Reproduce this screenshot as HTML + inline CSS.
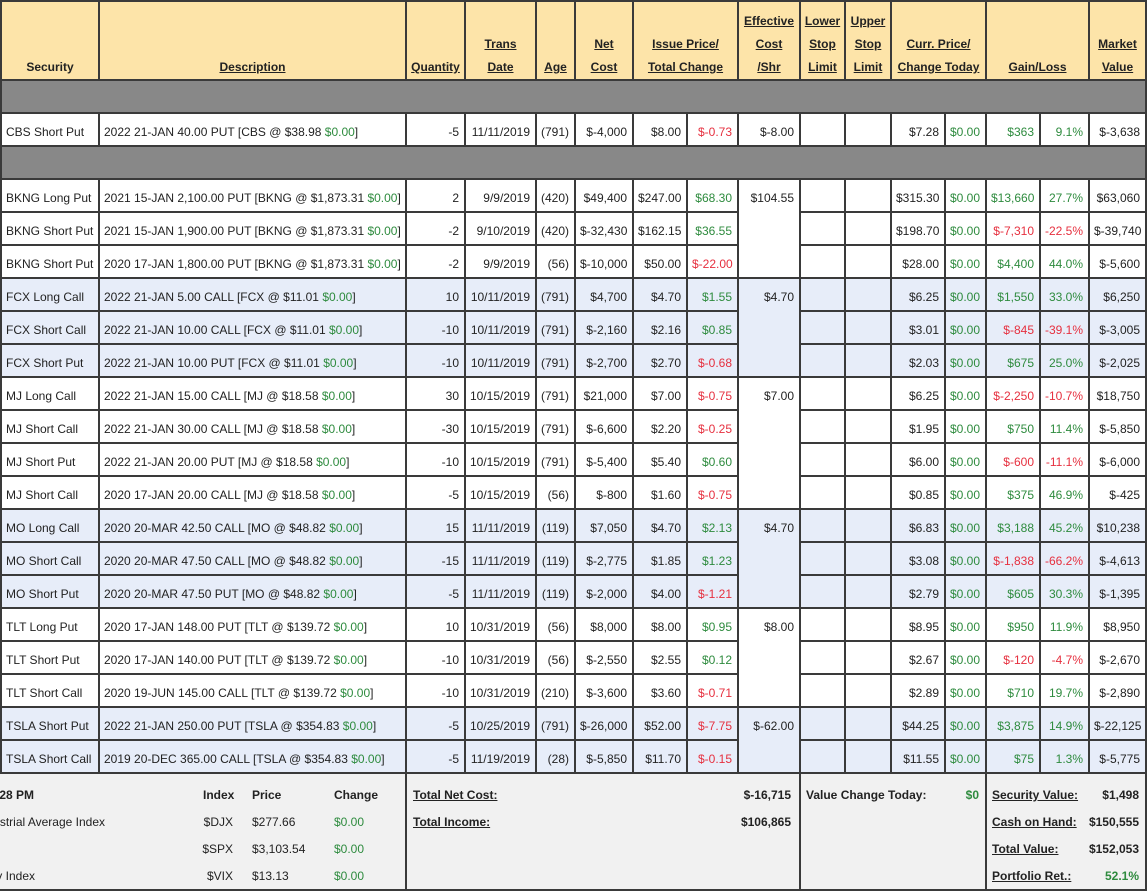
<!DOCTYPE html>
<html><head><meta charset="utf-8">
<style>
body{margin:0;width:1148px;height:892px;position:relative;overflow:hidden;background:#fff;font:12px "Liberation Sans",Arial,sans-serif;color:#222}
.r{position:absolute;left:0;width:1148px;height:35px}
.r>div{position:absolute;top:0;height:35px;box-sizing:border-box;border:2px solid #3a3a3a;padding:3px 5px 0 4px;line-height:31px;white-space:nowrap;text-align:right;background:#fff}
.b>div{background:#e7edf9}
.r>.l{text-align:left}
.g{color:#2e8b3e}.n{color:#e6303f}
.c0{left:0;width:100px}.c1{left:98px;width:309px}.c2{left:405px;width:61px}.c3{left:464px;width:73px}
.c4{left:535px;width:41px}.c5{left:574px;width:60px}.c6{left:632px;width:56px}.c7{left:686px;width:53px}
.c8{left:737px;width:64px}.c9{left:799px;width:47px}.c10{left:844px;width:48px}.c11{left:890px;width:56px}
.c12{left:944px;width:43px}.c13{left:985px;width:56px}.c14{left:1039px;width:51px}.c15{left:1088px;width:59px}
.h{position:absolute;left:0;top:0;width:1148px;height:81px}
.h>div{position:absolute;top:0;height:81px;box-sizing:border-box;border:2px solid #3a3a3a;background:#fde4a9;display:flex;flex-direction:column;justify-content:flex-end;align-items:center;text-align:center;line-height:23px;font-weight:bold;white-space:nowrap;padding:0}
.h span{text-decoration:underline}
.gb{position:absolute;left:0;width:1147px;height:35px;box-sizing:border-box;border:2px solid #3a3a3a;background:#888}
.f{position:absolute;top:772px;height:119px;box-sizing:border-box;border:2px solid #3a3a3a;background:#f1f1f1}
.t{position:absolute;line-height:15px;white-space:nowrap}
.bd{font-weight:bold}.u{text-decoration:underline}
.clip{position:absolute;left:0;top:774px;width:405px;height:115px;overflow:hidden}
</style></head><body>

<div class="h">
<div class="c0" style="left:0;width:100px">Security</div>
<div class="c1"><span>Description</span></div>
<div class="c2"><span>Quantity</span></div>
<div class="c3"><span>Trans<br>Date</span></div>
<div class="c4"><span>Age</span></div>
<div class="c5"><span>Net<br>Cost</span></div>
<div style="left:632px;width:107px"><span>Issue Price/<br>Total Change</span></div>
<div class="c8"><span>Effective<br>Cost<br>/Shr</span></div>
<div class="c9"><span>Lower<br>Stop<br>Limit</span></div>
<div class="c10"><span>Upper<br>Stop<br>Limit</span></div>
<div style="left:890px;width:97px"><span>Curr. Price/<br>Change Today</span></div>
<div style="left:985px;width:105px"><span>Gain/Loss</span></div>
<div class="c15"><span>Market<br>Value</span></div>
</div>

<div class="gb" style="top:79px"></div>

<div class="r" style="top:112px"><div class="c0 l">CBS Short Put</div><div class="c1 l">2022 21-JAN 40.00 PUT [CBS @ $38.98 <span class="g">$0.00</span>]</div><div class="c2">-5</div><div class="c3">11/11/2019</div><div class="c4">(791)</div><div class="c5">$-4,000</div><div class="c6">$8.00</div><div class="c7 n">$-0.73</div><div class="c8">$-8.00</div><div class="c9"></div><div class="c10"></div><div class="c11">$7.28</div><div class="c12 g">$0.00</div><div class="c13 g">$363</div><div class="c14 g">9.1%</div><div class="c15">$-3,638</div></div>

<div class="gb" style="top:145px"></div>

<div class="r" style="top:178px"><div class="c0 l">BKNG Long Put</div><div class="c1 l">2021 15-JAN 2,100.00 PUT [BKNG @ $1,873.31 <span class="g">$0.00</span>]</div><div class="c2">2</div><div class="c3">9/9/2019</div><div class="c4">(420)</div><div class="c5">$49,400</div><div class="c6">$247.00</div><div class="c7 g">$68.30</div><div class="c8" style="height:101px">$104.55</div><div class="c9"></div><div class="c10"></div><div class="c11">$315.30</div><div class="c12 g">$0.00</div><div class="c13 g">$13,660</div><div class="c14 g">27.7%</div><div class="c15">$63,060</div></div>
<div class="r" style="top:211px"><div class="c0 l">BKNG Short Put</div><div class="c1 l">2021 15-JAN 1,900.00 PUT [BKNG @ $1,873.31 <span class="g">$0.00</span>]</div><div class="c2">-2</div><div class="c3">9/10/2019</div><div class="c4">(420)</div><div class="c5">$-32,430</div><div class="c6">$162.15</div><div class="c7 g">$36.55</div><div class="c9"></div><div class="c10"></div><div class="c11">$198.70</div><div class="c12 g">$0.00</div><div class="c13 n">$-7,310</div><div class="c14 n">-22.5%</div><div class="c15">$-39,740</div></div>
<div class="r" style="top:244px"><div class="c0 l">BKNG Short Put</div><div class="c1 l">2020 17-JAN 1,800.00 PUT [BKNG @ $1,873.31 <span class="g">$0.00</span>]</div><div class="c2">-2</div><div class="c3">9/9/2019</div><div class="c4">(56)</div><div class="c5">$-10,000</div><div class="c6">$50.00</div><div class="c7 n">$-22.00</div><div class="c9"></div><div class="c10"></div><div class="c11">$28.00</div><div class="c12 g">$0.00</div><div class="c13 g">$4,400</div><div class="c14 g">44.0%</div><div class="c15">$-5,600</div></div>

<div class="r b" style="top:277px"><div class="c0 l">FCX Long Call</div><div class="c1 l">2022 21-JAN 5.00 CALL [FCX @ $11.01 <span class="g">$0.00</span>]</div><div class="c2">10</div><div class="c3">10/11/2019</div><div class="c4">(791)</div><div class="c5">$4,700</div><div class="c6">$4.70</div><div class="c7 g">$1.55</div><div class="c8" style="height:101px">$4.70</div><div class="c9"></div><div class="c10"></div><div class="c11">$6.25</div><div class="c12 g">$0.00</div><div class="c13 g">$1,550</div><div class="c14 g">33.0%</div><div class="c15">$6,250</div></div>
<div class="r b" style="top:310px"><div class="c0 l">FCX Short Call</div><div class="c1 l">2022 21-JAN 10.00 CALL [FCX @ $11.01 <span class="g">$0.00</span>]</div><div class="c2">-10</div><div class="c3">10/11/2019</div><div class="c4">(791)</div><div class="c5">$-2,160</div><div class="c6">$2.16</div><div class="c7 g">$0.85</div><div class="c9"></div><div class="c10"></div><div class="c11">$3.01</div><div class="c12 g">$0.00</div><div class="c13 n">$-845</div><div class="c14 n">-39.1%</div><div class="c15">$-3,005</div></div>
<div class="r b" style="top:343px"><div class="c0 l">FCX Short Put</div><div class="c1 l">2022 21-JAN 10.00 PUT [FCX @ $11.01 <span class="g">$0.00</span>]</div><div class="c2">-10</div><div class="c3">10/11/2019</div><div class="c4">(791)</div><div class="c5">$-2,700</div><div class="c6">$2.70</div><div class="c7 n">$-0.68</div><div class="c9"></div><div class="c10"></div><div class="c11">$2.03</div><div class="c12 g">$0.00</div><div class="c13 g">$675</div><div class="c14 g">25.0%</div><div class="c15">$-2,025</div></div>

<div class="r" style="top:376px"><div class="c0 l">MJ Long Call</div><div class="c1 l">2022 21-JAN 15.00 CALL [MJ @ $18.58 <span class="g">$0.00</span>]</div><div class="c2">30</div><div class="c3">10/15/2019</div><div class="c4">(791)</div><div class="c5">$21,000</div><div class="c6">$7.00</div><div class="c7 n">$-0.75</div><div class="c8" style="height:134px">$7.00</div><div class="c9"></div><div class="c10"></div><div class="c11">$6.25</div><div class="c12 g">$0.00</div><div class="c13 n">$-2,250</div><div class="c14 n">-10.7%</div><div class="c15">$18,750</div></div>
<div class="r" style="top:409px"><div class="c0 l">MJ Short Call</div><div class="c1 l">2022 21-JAN 30.00 CALL [MJ @ $18.58 <span class="g">$0.00</span>]</div><div class="c2">-30</div><div class="c3">10/15/2019</div><div class="c4">(791)</div><div class="c5">$-6,600</div><div class="c6">$2.20</div><div class="c7 n">$-0.25</div><div class="c9"></div><div class="c10"></div><div class="c11">$1.95</div><div class="c12 g">$0.00</div><div class="c13 g">$750</div><div class="c14 g">11.4%</div><div class="c15">$-5,850</div></div>
<div class="r" style="top:442px"><div class="c0 l">MJ Short Put</div><div class="c1 l">2022 21-JAN 20.00 PUT [MJ @ $18.58 <span class="g">$0.00</span>]</div><div class="c2">-10</div><div class="c3">10/15/2019</div><div class="c4">(791)</div><div class="c5">$-5,400</div><div class="c6">$5.40</div><div class="c7 g">$0.60</div><div class="c9"></div><div class="c10"></div><div class="c11">$6.00</div><div class="c12 g">$0.00</div><div class="c13 n">$-600</div><div class="c14 n">-11.1%</div><div class="c15">$-6,000</div></div>
<div class="r" style="top:475px"><div class="c0 l">MJ Short Call</div><div class="c1 l">2020 17-JAN 20.00 CALL [MJ @ $18.58 <span class="g">$0.00</span>]</div><div class="c2">-5</div><div class="c3">10/15/2019</div><div class="c4">(56)</div><div class="c5">$-800</div><div class="c6">$1.60</div><div class="c7 n">$-0.75</div><div class="c9"></div><div class="c10"></div><div class="c11">$0.85</div><div class="c12 g">$0.00</div><div class="c13 g">$375</div><div class="c14 g">46.9%</div><div class="c15">$-425</div></div>

<div class="r b" style="top:508px"><div class="c0 l">MO Long Call</div><div class="c1 l">2020 20-MAR 42.50 CALL [MO @ $48.82 <span class="g">$0.00</span>]</div><div class="c2">15</div><div class="c3">11/11/2019</div><div class="c4">(119)</div><div class="c5">$7,050</div><div class="c6">$4.70</div><div class="c7 g">$2.13</div><div class="c8" style="height:101px">$4.70</div><div class="c9"></div><div class="c10"></div><div class="c11">$6.83</div><div class="c12 g">$0.00</div><div class="c13 g">$3,188</div><div class="c14 g">45.2%</div><div class="c15">$10,238</div></div>
<div class="r b" style="top:541px"><div class="c0 l">MO Short Call</div><div class="c1 l">2020 20-MAR 47.50 CALL [MO @ $48.82 <span class="g">$0.00</span>]</div><div class="c2">-15</div><div class="c3">11/11/2019</div><div class="c4">(119)</div><div class="c5">$-2,775</div><div class="c6">$1.85</div><div class="c7 g">$1.23</div><div class="c9"></div><div class="c10"></div><div class="c11">$3.08</div><div class="c12 g">$0.00</div><div class="c13 n">$-1,838</div><div class="c14 n">-66.2%</div><div class="c15">$-4,613</div></div>
<div class="r b" style="top:574px"><div class="c0 l">MO Short Put</div><div class="c1 l">2020 20-MAR 47.50 PUT [MO @ $48.82 <span class="g">$0.00</span>]</div><div class="c2">-5</div><div class="c3">11/11/2019</div><div class="c4">(119)</div><div class="c5">$-2,000</div><div class="c6">$4.00</div><div class="c7 n">$-1.21</div><div class="c9"></div><div class="c10"></div><div class="c11">$2.79</div><div class="c12 g">$0.00</div><div class="c13 g">$605</div><div class="c14 g">30.3%</div><div class="c15">$-1,395</div></div>

<div class="r" style="top:607px"><div class="c0 l">TLT Long Put</div><div class="c1 l">2020 17-JAN 148.00 PUT [TLT @ $139.72 <span class="g">$0.00</span>]</div><div class="c2">10</div><div class="c3">10/31/2019</div><div class="c4">(56)</div><div class="c5">$8,000</div><div class="c6">$8.00</div><div class="c7 g">$0.95</div><div class="c8" style="height:101px">$8.00</div><div class="c9"></div><div class="c10"></div><div class="c11">$8.95</div><div class="c12 g">$0.00</div><div class="c13 g">$950</div><div class="c14 g">11.9%</div><div class="c15">$8,950</div></div>
<div class="r" style="top:640px"><div class="c0 l">TLT Short Put</div><div class="c1 l">2020 17-JAN 140.00 PUT [TLT @ $139.72 <span class="g">$0.00</span>]</div><div class="c2">-10</div><div class="c3">10/31/2019</div><div class="c4">(56)</div><div class="c5">$-2,550</div><div class="c6">$2.55</div><div class="c7 g">$0.12</div><div class="c9"></div><div class="c10"></div><div class="c11">$2.67</div><div class="c12 g">$0.00</div><div class="c13 n">$-120</div><div class="c14 n">-4.7%</div><div class="c15">$-2,670</div></div>
<div class="r" style="top:673px"><div class="c0 l">TLT Short Call</div><div class="c1 l">2020 19-JUN 145.00 CALL [TLT @ $139.72 <span class="g">$0.00</span>]</div><div class="c2">-10</div><div class="c3">10/31/2019</div><div class="c4">(210)</div><div class="c5">$-3,600</div><div class="c6">$3.60</div><div class="c7 n">$-0.71</div><div class="c9"></div><div class="c10"></div><div class="c11">$2.89</div><div class="c12 g">$0.00</div><div class="c13 g">$710</div><div class="c14 g">19.7%</div><div class="c15">$-2,890</div></div>

<div class="r b" style="top:706px"><div class="c0 l">TSLA Short Put</div><div class="c1 l">2022 21-JAN 250.00 PUT [TSLA @ $354.83 <span class="g">$0.00</span>]</div><div class="c2">-5</div><div class="c3">10/25/2019</div><div class="c4">(791)</div><div class="c5">$-26,000</div><div class="c6">$52.00</div><div class="c7 n">$-7.75</div><div class="c8" style="height:68px">$-62.00</div><div class="c9"></div><div class="c10"></div><div class="c11">$44.25</div><div class="c12 g">$0.00</div><div class="c13 g">$3,875</div><div class="c14 g">14.9%</div><div class="c15">$-22,125</div></div>
<div class="r b" style="top:739px"><div class="c0 l">TSLA Short Call</div><div class="c1 l">2019 20-DEC 365.00 CALL [TSLA @ $354.83 <span class="g">$0.00</span>]</div><div class="c2">-5</div><div class="c3">11/19/2019</div><div class="c4">(28)</div><div class="c5">$-5,850</div><div class="c6">$11.70</div><div class="c7 n">$-0.15</div><div class="c9"></div><div class="c10"></div><div class="c11">$11.55</div><div class="c12 g">$0.00</div><div class="c13 g">$75</div><div class="c14 g">1.3%</div><div class="c15">$-5,775</div></div>

<!-- footer -->
<div class="f" style="left:-2px;width:409px"></div>
<div class="f" style="left:405px;width:396px"></div>
<div class="f" style="left:799px;width:188px"></div>
<div class="f" style="left:985px;width:162px"></div>

<div class="clip">
<span class="t bd" style="top:14px;right:371px">Last Updated: 11/26/2019 4:28 PM</span>
<span class="t" style="top:41px;right:300px">Dow Jones Industrial Average Index</span>
<span class="t" style="top:95px;right:370px">CBOE Volatility Index</span>
</div>

<span class="t bd" style="top:788px;left:203px">Index</span>
<span class="t bd" style="top:788px;left:252px">Price</span>
<span class="t bd" style="top:788px;left:334px">Change</span>
<span class="t" style="top:815px;right:915px">$DJX</span>
<span class="t" style="top:815px;left:252px">$277.66</span>
<span class="t g" style="top:815px;left:334px">$0.00</span>
<span class="t" style="top:842px;right:915px">$SPX</span>
<span class="t" style="top:842px;left:252px">$3,103.54</span>
<span class="t g" style="top:842px;left:334px">$0.00</span>
<span class="t" style="top:869px;right:915px">$VIX</span>
<span class="t" style="top:869px;left:252px">$13.13</span>
<span class="t g" style="top:869px;left:334px">$0.00</span>

<span class="t bd u" style="top:788px;left:413px">Total Net Cost:</span>
<span class="t bd" style="top:788px;right:357px">$-16,715</span>
<span class="t bd u" style="top:815px;left:413px">Total Income:</span>
<span class="t bd" style="top:815px;right:357px">$106,865</span>

<span class="t bd" style="top:788px;left:806px">Value Change Today:</span>
<span class="t bd g" style="top:788px;right:169px">$0</span>

<span class="t bd u" style="top:788px;left:992px">Security Value:</span>
<span class="t bd" style="top:788px;right:9px">$1,498</span>
<span class="t bd u" style="top:815px;left:992px">Cash on Hand:</span>
<span class="t bd" style="top:815px;right:9px">$150,555</span>
<span class="t bd u" style="top:842px;left:992px">Total Value:</span>
<span class="t bd" style="top:842px;right:9px">$152,053</span>
<span class="t bd u" style="top:869px;left:992px">Portfolio Ret.:</span>
<span class="t bd g" style="top:869px;right:9px">52.1%</span>

</body></html>
